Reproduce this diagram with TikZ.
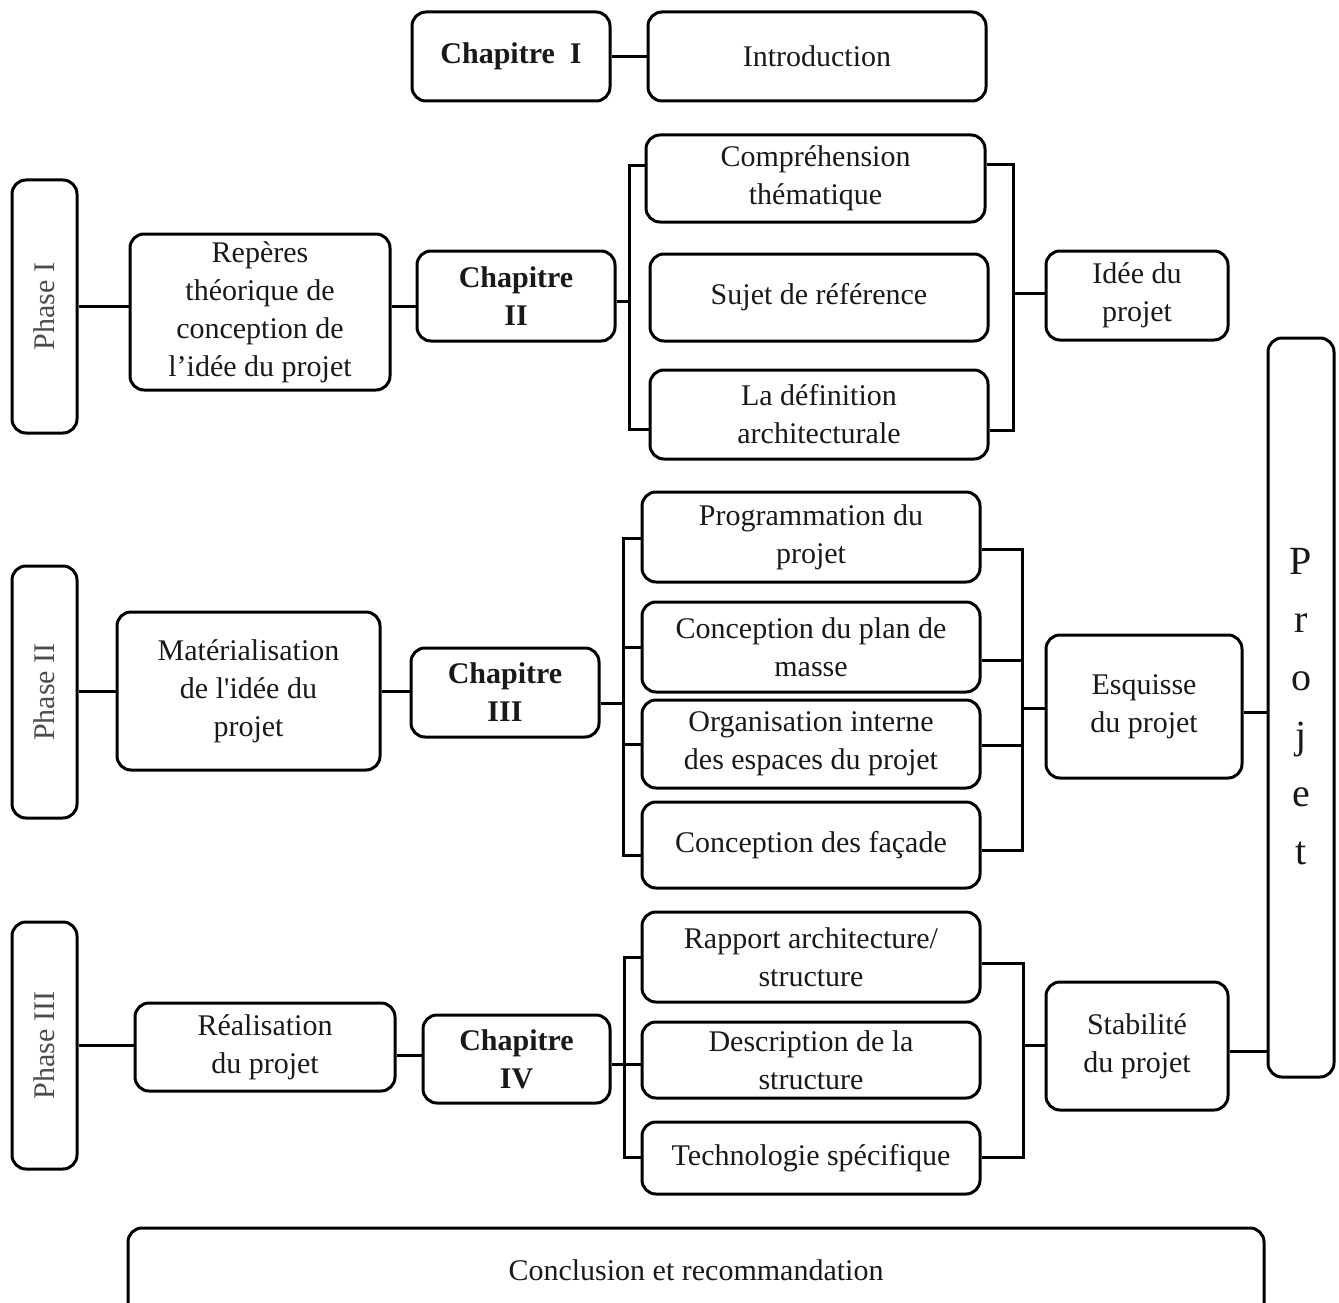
\documentclass[tikz,border=0pt]{standalone}
\usepackage{fontspec}
\setmainfont{Liberation Serif}
\begin{document}
\begin{tikzpicture}[x=1pt,y=-1pt,
  box/.style={draw=black, line width=3pt, rounded corners=14pt, inner sep=0pt,
    align=center, font=\fontsize{30}{38}\selectfont, text=black!90},
  bbox/.style={box, font=\fontsize{30}{38}\selectfont\bfseries},
  phasebox/.style={draw=black, line width=3pt, rounded corners=14pt, inner sep=0pt,
    minimum width=65pt},
  phasetext/.style={rotate=90, font=\fontsize{30}{38}\selectfont, text=black!70},
  link/.style={draw=black, line width=3pt}
]
\useasboundingbox (0,0) rectangle (1339,1303);
\clip (0,0) rectangle (1339,1303);

% ---- top
\node[bbox, minimum width=198pt, minimum height=89pt] (ch1) at (511,56.5) {\raisebox{-3pt}{Chapitre\ \ I}};
\node[box, minimum width=338pt, minimum height=89pt] (intro) at (817,56.5) {\raisebox{-2pt}{Introduction}};
\draw[link] (ch1) -- (intro);

% ---- Phase I
\node[phasebox, minimum height=253pt] (ph1) at (44.5,306.5) {};
\node[phasetext] at (ph1) {Phase I};
\node[box, minimum width=260pt, minimum height=156pt] (rep) at (260,312)
  {\raisebox{-3pt}{\begin{tabular}{@{}c@{}}Repères\\théorique de\\conception de\\l’idée du projet\end{tabular}}};
\node[bbox, minimum width=198pt, minimum height=90pt] (ch2) at (516,296) {Chapitre\\II};
\node[box, minimum width=339pt, minimum height=87pt] (comp) at (815.5,178.5) {Compréhension\\thématique};
\node[box, minimum width=338pt, minimum height=87pt] (sujet) at (819,297.5) {Sujet de référence};
\node[box, minimum width=338pt, minimum height=89pt] (defi) at (819,414.5) {La définition\\architecturale};
\node[box, minimum width=182pt, minimum height=89pt] (idee) at (1137,295.5) {Idée du\\projet};

\draw[link] (ph1.east) -- (ph1.east -| rep.west);
\draw[link] (rep.east |- ph1.east) -- (ch2.west |- ph1.east);
\coordinate (bl1) at (629,301);
\draw[link] (ch2.east |- bl1) -- (bl1);
\draw[link] (comp.west |- 0,166) -- (bl1 |- 0,166) -- (bl1 |- 0,429) -- (defi.west |- 0,429);
\coordinate (br1) at (1013,293);
\draw[link] (comp.east |- 0,165) -- (br1 |- 0,165) -- (br1 |- 0,430) -- (defi.east |- 0,430);
\draw[link] (br1) -- (idee.west |- br1);

% ---- Phase II
\node[phasebox, minimum height=252pt] (ph2) at (44.5,692) {};
\node[phasetext] at (ph2) {Phase II};
\node[box, minimum width=263pt, minimum height=158pt] (mat) at (248.5,691)
  {Matérialisation\\de l\textquotesingle idée du\\projet};
\node[bbox, minimum width=188pt, minimum height=89pt] (ch3) at (505,692.5) {Chapitre\\III};
\node[box, minimum width=338pt, minimum height=90pt] (prog) at (811,537) {Programmation du\\projet};
\node[box, minimum width=338pt, minimum height=90pt] (plan) at (811,647) {Conception du plan de\\masse};
\node[box, minimum width=338pt, minimum height=88pt] (org) at (811,744) {Organisation interne\\des espaces du projet};
\node[box, minimum width=338pt, minimum height=86pt] (fac) at (811,845) {\raisebox{-3pt}{Conception des façade}};
\node[box, minimum width=196pt, minimum height=143pt] (esq) at (1144,706.5) {Esquisse\\du projet};

\draw[link] (ph2.east |- 0,691) -- (mat.west |- 0,691);
\draw[link] (mat.east |- 0,691) -- (ch3.west |- 0,691);
\coordinate (bl2) at (623,703);
\draw[link] (ch3.east |- bl2) -- (bl2);
\draw[link] (prog.west |- 0,538) -- (bl2 |- 0,538) -- (bl2 |- 0,855) -- (fac.west |- 0,855);
\draw[link] (bl2 |- plan.west) -- (plan.west);
\draw[link] (bl2 |- org.west) -- (org.west);
\coordinate (br2) at (1022,708);
\draw[link] (prog.east |- 0,549) -- (br2 |- 0,549) -- (br2 |- 0,850) -- (fac.east |- 0,850);
\draw[link] (plan.east |- 0,660) -- (br2 |- 0,660);
\draw[link] (org.east |- 0,745) -- (br2 |- 0,745);
\draw[link] (br2) -- (esq.west |- br2);

% ---- Projet
\node[draw=black, line width=3pt, rounded corners=14pt, inner sep=0pt,
  minimum width=66pt, minimum height=739pt, align=center,
  font=\fontsize{40}{58}\selectfont, text=black!90] (projet) at (1301,707.5)
  {\raisebox{-5pt}{\begin{tabular}{@{}c@{}}P\\r\\o\\j\\e\\t\end{tabular}}};
\draw[link] (esq.east |- 0,712) -- (projet.west |- 0,712);

% ---- Phase III
\node[phasebox, minimum height=247pt] (ph3) at (44.5,1045.5) {};
\node[phasetext] at (ph3) {Phase III};
\node[box, minimum width=260pt, minimum height=88pt] (real) at (265,1047) {Réalisation\\du projet};
\node[bbox, minimum width=187pt, minimum height=88pt] (ch4) at (516.5,1059) {Chapitre\\IV};
\node[box, minimum width=338pt, minimum height=90pt] (rapp) at (811,957) {Rapport architecture/\\structure};
\node[box, minimum width=338pt, minimum height=76pt] (desc) at (811,1060) {Description de la\\structure};
\node[box, minimum width=338pt, minimum height=72pt] (tech) at (811,1158) {\raisebox{-3pt}{Technologie spécifique}};
\node[box, minimum width=182pt, minimum height=128pt] (stab) at (1137,1046) {Stabilité\\du projet};

\draw[link] (ph3.east |- 0,1045) -- (real.west |- 0,1045);
\draw[link] (real.east |- 0,1055) -- (ch4.west |- 0,1055);
\coordinate (bl3) at (624,1064);
\draw[link] (ch4.east |- bl3) -- (desc.west |- bl3);
\draw[link] (rapp.west |- 0,957) -- (bl3 |- 0,957) -- (bl3 |- 0,1157) -- (tech.west |- 0,1157);
\coordinate (br3) at (1023,1045);
\draw[link] (rapp.east |- 0,963) -- (br3 |- 0,963) -- (br3 |- 0,1157) -- (tech.east |- 0,1157);
\draw[link] (br3) -- (stab.west |- br3);
\draw[link] (stab.east |- 0,1051) -- (projet.west |- 0,1051);

% ---- Conclusion
\node[box, minimum width=1136pt, minimum height=92pt] (concl) at (696,1274) {};
\node[font=\fontsize{30}{38}\selectfont, text=black!90] at (696,1270) {Conclusion et recommandation};
\end{tikzpicture}
\end{document}
